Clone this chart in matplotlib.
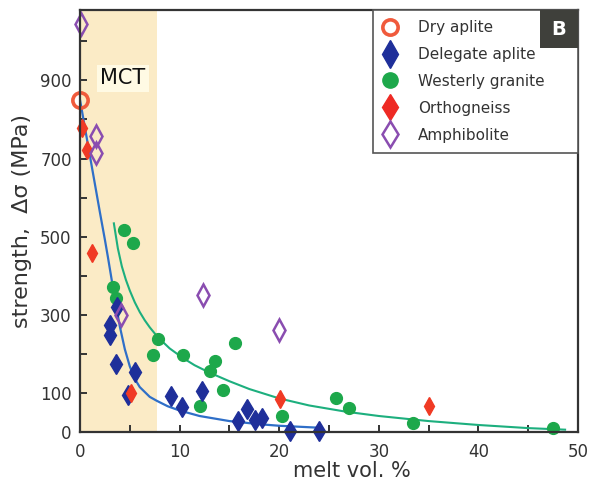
import matplotlib
matplotlib.use("Agg")
import matplotlib.pyplot as plt
from matplotlib.lines import Line2D
from matplotlib.patches import Rectangle

# melt fraction (vol. %) vs strength (MPa)
dry_x = [0.0]
dry_y = [850]

delegate_x = [3.0, 3.0, 3.6, 3.7, 4.8, 5.5, 9.1, 10.2, 12.2, 15.9, 16.8, 17.6, 18.3, 21.1, 24.0]
delegate_y = [275, 249, 173, 320, 96, 153, 92, 64, 104, 28, 59, 31, 36, 3, 3]

westerly_x = [4.4, 5.3, 3.3, 3.6, 7.3, 7.8, 10.3, 12.0, 13.1, 13.6, 14.4, 15.6, 20.3, 25.7, 27.0, 33.4, 47.5]
westerly_y = [517, 484, 371, 343, 198, 237, 198, 66, 155, 183, 107, 229, 41, 86, 61, 23, 10]

ortho_x = [0.2, 0.7, 1.2, 5.1, 20.1, 35.0]
ortho_y = [778, 723, 458, 101, 84, 66]

amphi_x = [0.1, 1.6, 1.6, 4.1, 12.3, 20.0]
amphi_y = [1045, 758, 715, 300, 350, 260]

# fitted curves, points
fit_blue_x = [0.0, 0.5, 1.0, 1.5, 2.0, 2.5, 2.8, 3.1, 3.5, 4.0, 4.5, 5.0, 5.5, 6.0, 7.0, 7.7, 8.8, 10.0, 12.0, 15.0, 18.0, 20.0, 24.0]
fit_blue_y = [850, 778, 706, 634, 562, 492, 448, 402, 340, 270, 212, 168, 136, 115, 90, 80, 66, 55, 41, 28, 20, 16, 11]

fit_green_x = [3.4, 3.8, 4.2, 4.6, 5.0, 5.5, 6.0, 6.5, 7.0, 7.8, 9.0, 10.3, 11.5, 13.0, 15.0, 17.0, 20.0, 23.0, 26.7, 30.0, 35.0, 40.0, 45.0, 48.7]
fit_green_y = [534, 470, 424, 390, 362, 332, 307, 286, 268, 243, 214, 190, 171, 152, 130, 110, 86, 68, 52, 41, 28, 18, 10, 6]

mct_end = 7.7

plt.rcParams['font.family'] = ['DejaVu Sans']
txt = '#333333'

fig = plt.figure(figsize=(5.9, 4.82), dpi=100)
ax = fig.add_axes([0.1356, 0.1037, 0.8441, 0.8755])

# MCT band
ax.axvspan(0, mct_end, color='#FBEBC6', lw=0, zorder=0.5)
ax.text(4.3, 905, 'MCT', fontsize=15, color='#111111', ha='center', va='center', zorder=6,
        bbox=dict(boxstyle='square,pad=0.15', fc='#FFFAE4', ec='none'))

# lines and points
ax.plot(fit_blue_x, fit_blue_y, color='#2F6FC8', lw=1.6, zorder=2)
ax.plot(fit_green_x, fit_green_y, color='#1DAF7E', lw=1.5, zorder=2)

ax.plot(westerly_x, westerly_y, 'o', color='#1DA84B', ms=8.5, mec='#1DA84B', zorder=3, clip_on=False)
ax.plot(delegate_x, delegate_y, 'd', color='#1F2F9A', ms=10, mec='#1F2F9A', zorder=3, clip_on=False)
ax.plot(ortho_x, ortho_y, 'd', color='#F03A24', ms=9, mec='#F03A24', zorder=3, clip_on=False)
ax.plot(amphi_x, amphi_y, 'd', color='#8A4DB0', ms=11, mfc='none', mew=1.8, zorder=3, clip_on=False)
ax.plot(dry_x, dry_y, 'o', color='#F05A3C', ms=11, mfc='none', mew=2.6, zorder=3, clip_on=False)

ax.set_xlim(0, 50)
ax.set_ylim(0, 1080)

ax.set_xticks(range(0, 51, 5))
ax.set_xticklabels(['0', '', '10', '', '20', '', '30', '', '40', '', '50'])
ax.set_yticks(range(0, 1001, 100))
ax.set_yticklabels(['0', '100', '', '300', '', '500', '', '700', '', '900', ''])
ax.tick_params(direction='in', length=5, width=1.4, color='#333333', labelsize=12, labelcolor=txt)
ax.tick_params(axis='x', pad=8)
ax.tick_params(axis='y', pad=6)

for s in ax.spines.values():
    s.set_linewidth(1.6)
    s.set_color('#333333')
    s.set_zorder(7)

ax.set_xlabel('melt vol. %', fontsize=15, color=txt)
ax.xaxis.set_label_coords(0.546, -0.068)
ax.set_ylabel('strength,  Δσ (MPa)', fontsize=16, color=txt)
ax.yaxis.set_label_coords(-0.096, 0.5)

# legend, stretched so the frame leaves room for the panel tag
handles = [
    Line2D([], [], ls='none', marker='o', ms=11, mfc='none', mec='#F05A3C', mew=2.6),
    Line2D([], [], ls='none', marker='d', ms=14, color='#1F2F9A'),
    Line2D([], [], ls='none', marker='o', ms=11, color='#1DA84B'),
    Line2D([], [], ls='none', marker='d', ms=13, color='#EE2A24'),
    Line2D([], [], ls='none', marker='d', ms=13, mfc='white', mec='#8A4DB0', mew=1.8),
]
labels = ['Dry aplite', 'Delegate aplite', 'Westerly granite', 'Orthogneiss', 'Amphibolite']
leg = ax.legend(handles, labels, loc='upper left', bbox_to_anchor=(0.588, 0, 0.412, 1),
                mode='expand', borderaxespad=0, fontsize=11, fancybox=False,
                edgecolor='#555555', labelspacing=0.78, handlelength=1.0,
                handletextpad=1.3, borderpad=0.65, framealpha=1)
leg.get_frame().set_linewidth(1.2)
for t in leg.get_texts():
    t.set_color(txt)
leg.set_zorder(8)

# panel tag
ax.add_patch(Rectangle((0.924, 0.910), 0.076, 0.090, transform=ax.transAxes,
                       fc='#3F403B', ec='none', zorder=9, clip_on=False))
ax.text(0.962, 0.955, 'B', transform=ax.transAxes, color='white', fontsize=14,
        fontweight='bold', ha='center', va='center', zorder=10)

fig.savefig('out.png', dpi=100)
